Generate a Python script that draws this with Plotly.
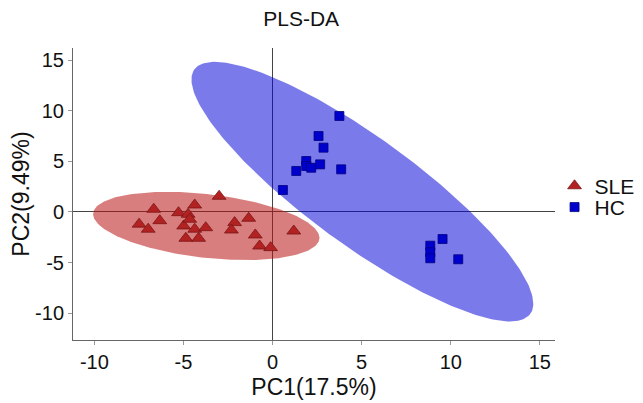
import numpy as np
import plotly.graph_objects as go

# SLE group scores (PC1, PC2)
sle_pc1 = [-3.0, -6.67, -4.37, -5.28, -4.74, -6.33, -7.49, -6.98, -4.99, -4.37,
           -3.75, -4.87, -4.15, -4.65, -2.13, -2.31, -1.34, -0.97, -0.73, -0.11, 1.19]
sle_pc2 = [1.55, 0.27, 0.69, -0.07, -0.23, -0.86, -1.2, -1.7, -1.38, -1.7,
           -1.55, -2.6, -2.6, -0.72, -1.05, -1.78, -0.62, -2.27, -3.36, -3.52, -1.88]

# HC group scores (PC1, PC2)
hc_pc1 = [3.75, 2.58, 2.86, 1.89, 1.89, 2.17, 2.67, 3.85, 1.33, 0.58,
          9.54, 8.85, 8.85, 8.85, 10.42]
hc_pc2 = [9.48, 7.5, 6.35, 5.03, 4.54, 4.37, 4.7, 4.21, 4.05, 2.17,
          -2.67, -3.33, -3.98, -4.57, -4.67]

# Confidence ellipses: center x, center y, semi-major, semi-minor, angle (deg)
sle_ellipse = [-3.72, -1.38, 6.49, 3.09, -13.6]
hc_ellipse = [5.04, 2.01, 15.5, 4.0, -54.4]

x_ticks = [-10, -5, 0, 5, 10, 15]
y_ticks = [-10, -5, 0, 5, 10, 15]


def ellipse_xy(params, n=240):
    cx, cy, a, b, ang = params
    th = np.deg2rad(ang)
    t = np.linspace(0, 2 * np.pi, n)
    x = cx + a * np.cos(t) * np.cos(th) - b * np.sin(t) * np.sin(th)
    y = cy + a * np.cos(t) * np.sin(th) + b * np.sin(t) * np.cos(th)
    return x, y


FONT = "Liberation Sans, Arial, sans-serif"

fig = go.Figure()

ex, ey = ellipse_xy(sle_ellipse)
fig.add_trace(go.Scatter(x=ex, y=ey, mode="lines", fill="toself",
                         fillcolor="rgba(185,20,20,0.55)", line=dict(width=0),
                         hoverinfo="skip", showlegend=False))
ex, ey = ellipse_xy(hc_ellipse)
fig.add_trace(go.Scatter(x=ex, y=ey, mode="lines", fill="toself",
                         fillcolor="rgba(0,0,215,0.52)", line=dict(width=0),
                         hoverinfo="skip", showlegend=False))

fig.add_trace(go.Scatter(x=sle_pc1, y=sle_pc2, mode="markers", name="SLE",
                         legend="legend",
                         marker=dict(symbol="triangle-up", size=12, color="#B22222",
                                     line=dict(color="#7a1515", width=0.8))))
fig.add_trace(go.Scatter(x=hc_pc1, y=hc_pc2, mode="markers", name="HC",
                         legend="legend2",
                         marker=dict(symbol="square", size=9, color="#0000CC",
                                     line=dict(color="#000080", width=0.8))))

legend_style = dict(xanchor="left", yanchor="middle",
                    font=dict(size=21, family=FONT, color="#111111"),
                    bgcolor="rgba(0,0,0,0)", borderwidth=0)

fig.update_layout(
    template="none",
    width=643, height=403,
    margin=dict(l=65, r=95, t=40, b=71),
    paper_bgcolor="white", plot_bgcolor="white",
    font=dict(family=FONT, color="#111111"),
    title=dict(text="PLS-DA", x=0.456, xanchor="center", xref="container",
               y=0.973, yanchor="middle", yref="container",
               font=dict(size=21, family=FONT, color="#111111")),
    legend=dict(x=0.997, y=0.527, **legend_style),
    legend2=dict(x=0.997, y=0.454, **legend_style),
    showlegend=True,
)

fig.update_xaxes(range=[-11.2, 15.85], tickvals=x_ticks,
                 ticktext=[str(v) for v in x_ticks], showgrid=False,
                 zeroline=True, zerolinecolor="#444444", zerolinewidth=1,
                 showline=True, linecolor="#666666", linewidth=1,
                 ticks="outside", ticklen=4, tickcolor="#999999", automargin=False,
                 tickfont=dict(size=20, family=FONT, color="#111111"),
                 title=dict(text="PC1(17.5%)", font=dict(size=23, family=FONT, color="#111111"),
                            standoff=6))
fig.update_yaxes(range=[-12.64, 16.19], tickvals=y_ticks,
                 ticktext=[str(v) for v in y_ticks], showgrid=False,
                 zeroline=True, zerolinecolor="#444444", zerolinewidth=1,
                 showline=True, linecolor="#666666", linewidth=1,
                 ticks="outside", ticklen=4, tickcolor="#999999", automargin=False,
                 tickfont=dict(size=20, family=FONT, color="#111111"),
                 title=dict(text="PC2(9.49%)", font=dict(size=23, family=FONT, color="#111111"),
                            standoff=2))

fig.write_html("out.html")
